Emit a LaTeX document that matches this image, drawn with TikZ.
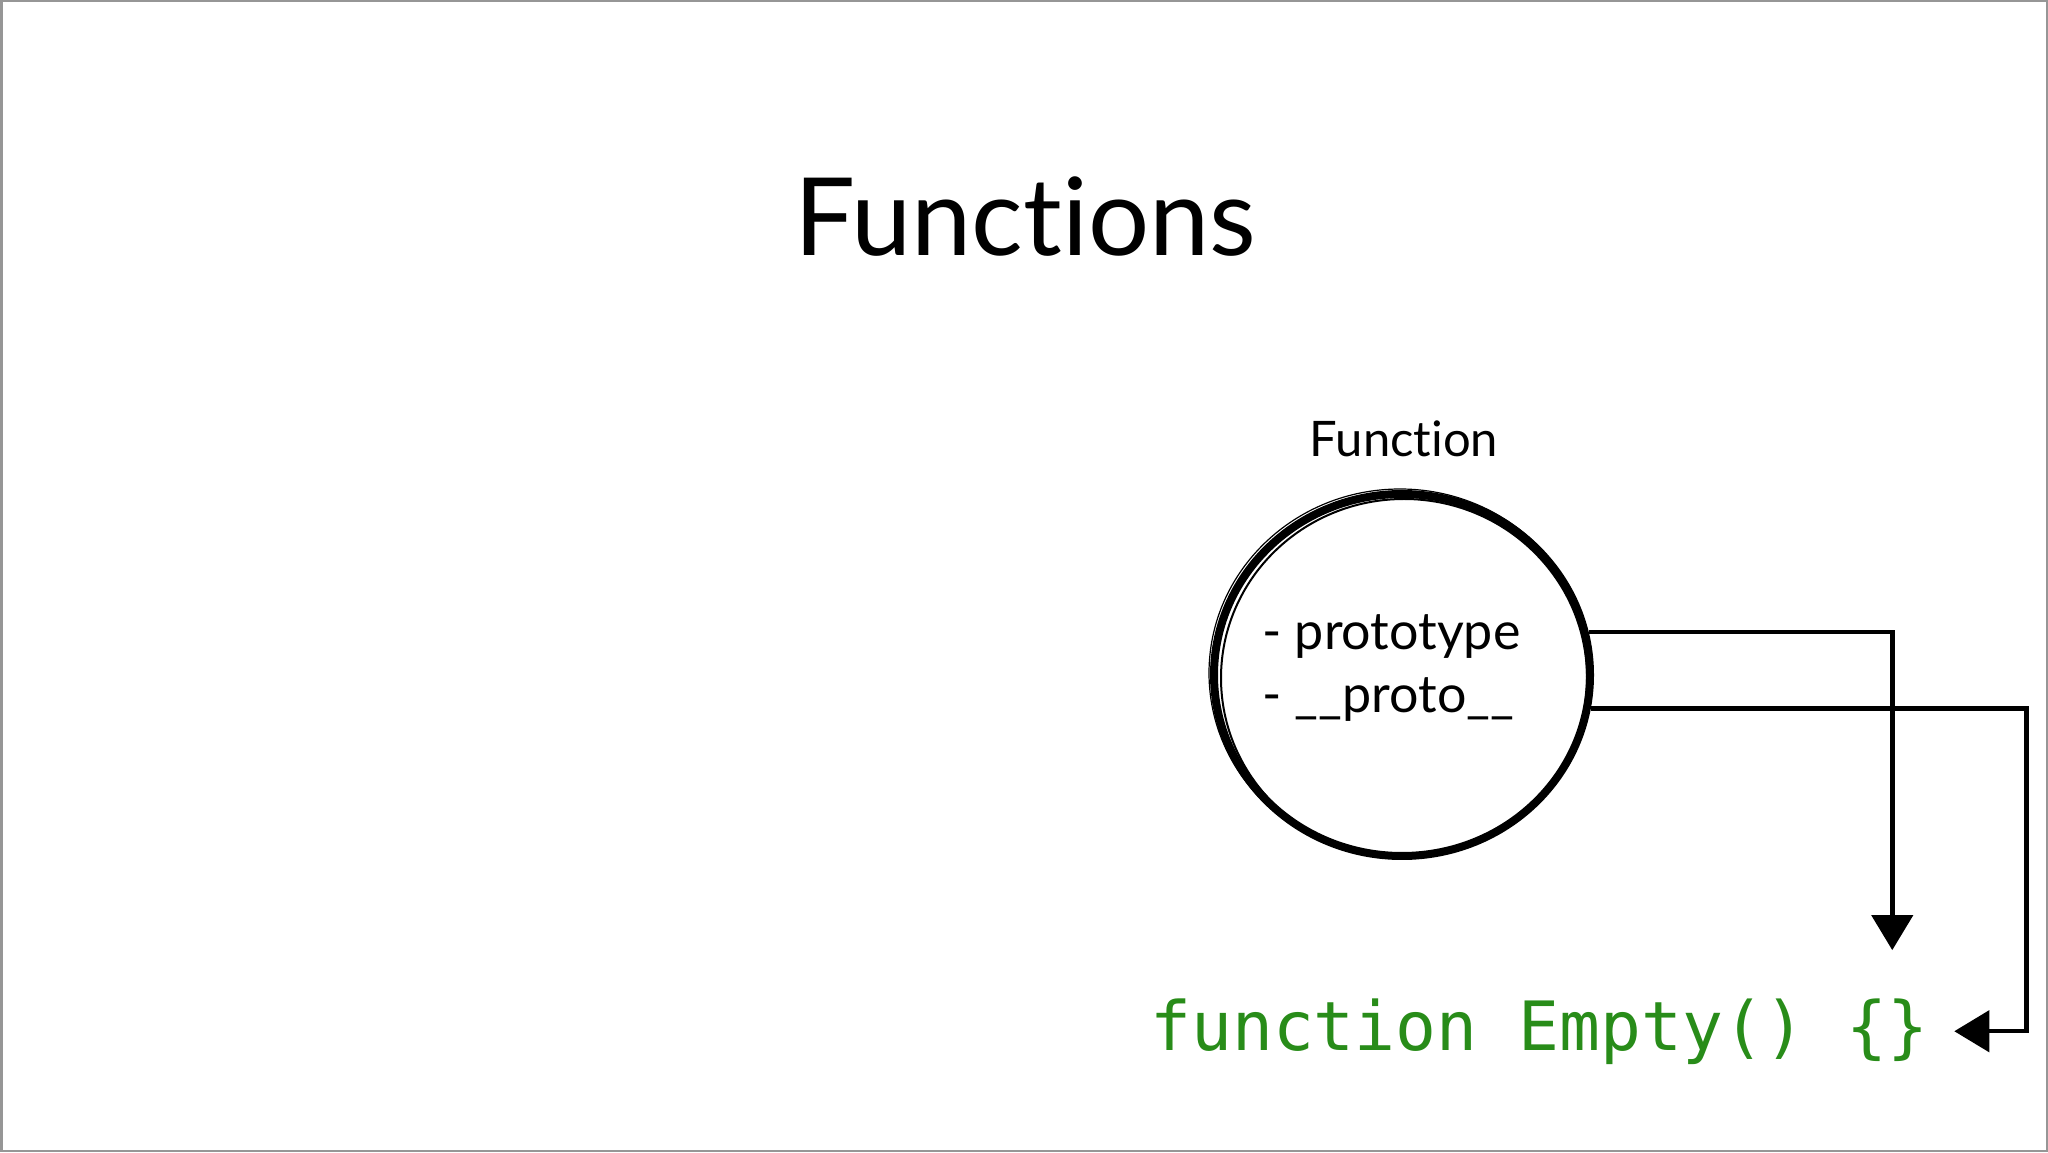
\documentclass[tikz,border=0pt]{standalone}
\usepackage{fontspec}
\setmainfont{Lato}[Ligatures=NoCommon]
\setmonofont{DejaVu Sans Mono}
\usepackage{tikz}
\usetikzlibrary{arrows.meta,positioning,calc,shapes.geometric}
\definecolor{codegreen}{RGB}{40,140,25}
\definecolor{framegray}{RGB}{150,150,150}

\begin{document}
\begin{tikzpicture}[
    x=1pt,
    y=1pt,
    >={Triangle[length=35pt,width=41pt]},
    lbl/.style={
        inner sep=0pt,
        anchor=base,
        font=\fontsize{49}{58}\selectfont
    },
    conn/.style={
        ->,
        line width=4.5pt,
        black
    }
]

\useasboundingbox (0,0) rectangle (2048,1152);
\draw[framegray, line width=2.5pt] (1.25,1.25) rectangle (2046.75,1150.75);

% title
\node[
    lbl,
    font=\fontsize{108}{125}\selectfont
] (title) at (1025,896) {Functions};

% the Function object
\node[
    ellipse,
    draw,
    line width=8pt,
    minimum width=376pt,
    minimum height=362pt,
    inner sep=0pt
] (func) at (1402,477) {};
\draw[line width=2pt] ([shift={(2,-3)}]func.center) ellipse (183 and 179);
\draw[line width=1.2pt] ([shift={(-2,2)}]func.center) ellipse (191 and 184);

\node[lbl] (name) at (1404,695) {Function};

\node[
    lbl,
    anchor=base west,
    font=\fontsize{52}{62}\selectfont
] (protoA) at (1262,502) {- prototype};

\node[
    lbl,
    anchor=base west,
    font=\fontsize{52}{62}\selectfont
] (protoB) at (1262,439) {- \_\_proto\_\_};

% the code
\node[
    lbl,
    anchor=base west,
    text=codegreen,
    font=\ttfamily\fontsize{68}{80}\selectfont
] (code) at (1150,102) {function Empty() \{\}};

\draw[conn] (func.13) -| ([xshift=-36pt,yshift=48pt]code.north east);
\draw[conn] (func.-10.3) -| ([xshift=98pt]code.east) -- ([xshift=26pt]code.east);

\end{tikzpicture}
\end{document}
